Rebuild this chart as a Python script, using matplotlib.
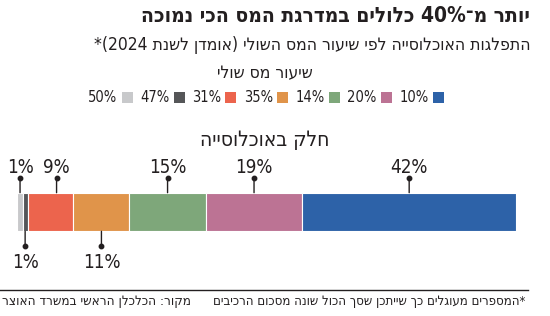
import re
import numpy as np
import matplotlib
matplotlib.use("Agg")
import matplotlib.pyplot as plt
from matplotlib.patches import Patch
from matplotlib.lines import Line2D
import matplotlib.transforms as mtransforms

# ---------------- data ----------------
rates = ["50%", "47%", "31%", "35%", "14%", "20%", "10%"]
shares = [1, 1, 9, 11, 15, 19, 42]
colors = ["#c8c9cb", "#555658", "#ec644d", "#e0944a", "#7ea77a", "#bc7394", "#2d62a8"]

title = "יותר מ־40% כלולים במדרגת המס הכי נמוכה"
subtitle = "התפלגות האוכלוסייה לפי שיעור המס השולי (אומדן לשנת 2024)*"
legend_title = "שיעור מס שולי"
axis_title = "חלק באוכלוסייה"
note = "*המספרים מעוגלים כך שייתכן שסך הכול שונה מסכום הרכיבים"
source = "מקור: הכלכלן הראשי במשרד האוצר"

# label placement (style)
label_side = ["top", "bottom", "top", "bottom", "top", "top", "top"]
label_dx = [0, 0, 6, 0, 0, 0, 0]  # pixels

TXT = "#231f20"
W, H = 550, 316
plt.rcParams["font.family"] = ["DejaVu Sans"]
plt.rcParams["font.stretch"] = "condensed"

MIRROR = str.maketrans("()[]", ")(][")


def vis(s):
    parts = re.findall(r"[0-9A-Za-z%.]+|[^0-9A-Za-z%.]+", s)
    out = []
    for p in reversed(parts):
        if re.match(r"[0-9A-Za-z%.]", p):
            out.append(p)
        else:
            out.append(p[::-1].translate(MIRROR))
    return "".join(out)


fig = plt.figure(figsize=(W / 100, H / 100), dpi=100)


def fx(px):
    return px / W


def fy(py):
    return 1 - py / H


# titles
t1 = fig.text(fx(530), fy(16), vis(title), ha="right", va="center",
              fontsize=15, fontweight="bold", color=TXT, fontstretch="condensed")
t2 = fig.text(fx(530), fy(45), vis(subtitle), ha="right", va="center",
              fontsize=12.5, color=TXT, fontstretch="condensed")
fig.text(fx(265), fy(73), vis(legend_title), ha="center", va="center",
         fontsize=12.5, color=TXT, fontstretch="condensed")
fig.text(fx(265), fy(140), vis(axis_title), ha="center", va="center",
         fontsize=15, color=TXT, fontstretch="condensed")

# bar
ax = fig.add_axes([fx(17.5), fy(231.3), fx(516) - fx(17.5), (231.3 - 192.7) / H])
total = sum(shares)
lefts = np.concatenate([[0], np.cumsum(shares)[:-1]])
bars = ax.barh([0] * len(shares), shares, left=lefts, height=1.0,
               color=colors, edgecolor="white", linewidth=0.8)
ax.set_xlim(0, total)
ax.set_ylim(-0.5, 0.5)
ax.axis("off")

for i, (l, v) in enumerate(zip(lefts, shares)):
    xc = l + v / 2
    base = mtransforms.offset_copy(ax.transData, fig=fig, x=label_dx[i] * 0.72, y=0, units="points")
    if label_side[i] == "top":
        y0, sgn = 0.5, 1
    else:
        y0, sgn = -0.5, -1
    tr_end = mtransforms.offset_copy(ax.transData, fig=fig, x=label_dx[i] * 0.72,
                                     y=sgn * 14.5 * 0.72, units="points")
    tr_txt = mtransforms.offset_copy(ax.transData, fig=fig, x=label_dx[i] * 0.72,
                                     y=sgn * (25.5 if sgn > 0 else 31) * 0.72, units="points")
    ax.annotate("", xy=(xc, y0), xycoords=base, xytext=(xc, y0), textcoords=tr_end,
                arrowprops=dict(arrowstyle="-", color=TXT, lw=1, shrinkA=0, shrinkB=0))
    ax.plot([xc], [y0], marker="o", ms=3.2, color=TXT, transform=tr_end, clip_on=False)
    ax.text(xc, y0, f"{v}%", transform=tr_txt, ha="center", va="center",
            fontsize=13.5, color=TXT, fontstretch="condensed")

# legend
handles = [Patch(facecolor=c, edgecolor="none", label=r) for c, r in zip(colors, rates)]
fig.legend(handles=handles, loc="center", bbox_to_anchor=(fx(266), fy(98)), ncol=len(rates),
           frameon=False, markerfirst=False, handlelength=0.75, handleheight=0.85,
           handletextpad=0.3, columnspacing=0.5, borderpad=0, borderaxespad=0,
           labelcolor=TXT, prop=dict(size=10.5, stretch="condensed"))

# footer
fig.add_artist(Line2D([fx(0), fx(528)], [fy(290), fy(290)], color=TXT, lw=1))
t3 = fig.text(fx(525), fy(301), vis(note), ha="right", va="center",
              fontsize=10, color=TXT, fontstretch="condensed")
t4 = fig.text(fx(2), fy(301), vis(source), ha="left", va="center",
              fontsize=10, color=TXT, fontstretch="condensed")

# fit widths
fig.canvas.draw()
r = fig.canvas.get_renderer()
for t, target in [(t1, 455), (t2, 452), (t3, 312), (t4, 188)]:
    w = t.get_window_extent(r).width
    if w > target:
        t.set_fontsize(t.get_fontsize() * target / w)

fig.savefig("out.png", dpi=100)
